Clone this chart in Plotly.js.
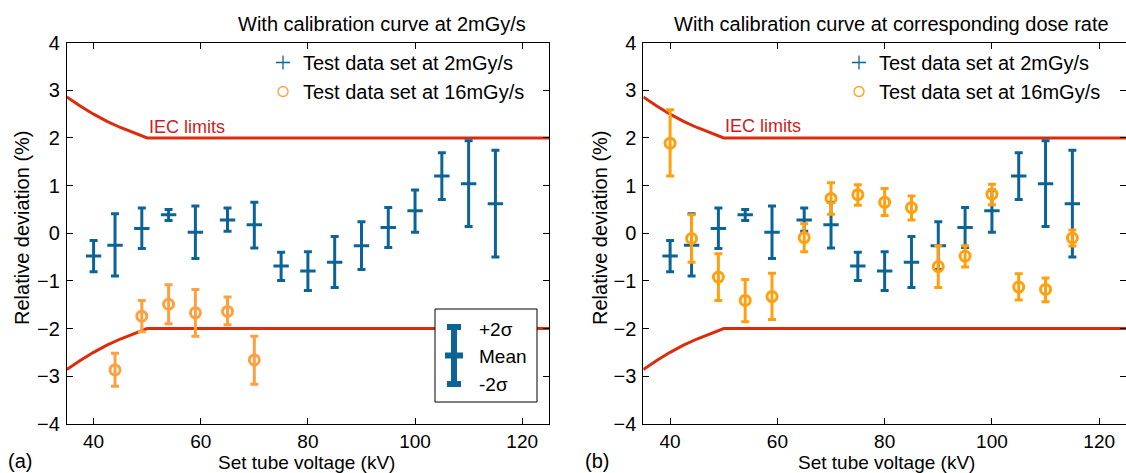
<!DOCTYPE html>
<html>
<head>
<meta charset="utf-8">
<script src="https://cdn.plot.ly/plotly-3.0.1.min.js"></script>
<style>html,body{margin:0;padding:0;background:#fff;}#chart{width:1126px;height:473px;}</style>
</head>
<body>
<div id="chart"></div>
<script>
// ---------- data ----------
const kV = [40, 44, 49, 54, 59, 65, 70, 75, 80, 85, 90, 95, 100, 105, 110, 115];

// Test data set at 2 mGy/s (same in both panels)
const blueMean  = [-0.48, -0.25, 0.10, 0.39, 0.02, 0.28, 0.18, -0.69, -0.79, -0.61, -0.26, 0.12, 0.47, 1.20, 1.04, 0.62];
const blueUpper = [-0.15, 0.41, 0.53, 0.50, 0.57, 0.53, 0.65, -0.40, -0.39, -0.07, 0.24, 0.54, 0.91, 1.69, 1.94, 1.74];
const blueLower = [-0.81, -0.90, -0.32, 0.27, -0.53, 0.04, -0.31, -0.99, -1.20, -1.14, -0.76, -0.30, 0.02, 0.71, 0.14, -0.50];

// (a) Test data set at 16 mGy/s with calibration curve at 2 mGy/s
const kVA = [44, 49, 54, 59, 65, 70];
const orangeAMean  = [-2.87, -1.74, -1.49, -1.67, -1.64, -2.66];
const orangeAUpper = [-2.52, -1.41, -1.08, -1.18, -1.34, -2.16];
const orangeALower = [-3.21, -2.07, -1.90, -2.16, -1.92, -3.17];

// (b) Test data set at 16 mGy/s with calibration curve at corresponding dose rate
const orangeBMean  = [1.89, -0.11, -0.92, -1.41, -1.33, -0.09, 0.73, 0.81, 0.65, 0.54, -0.70, -0.48, 0.82, -1.13, -1.18, -0.10];
const orangeBUpper = [2.59, 0.39, -0.43, -0.97, -0.84, 0.20, 1.06, 1.02, 0.94, 0.78, -0.26, -0.26, 1.03, -0.85, -0.94, 0.07];
const orangeBLower = [1.20, -0.61, -1.41, -1.86, -1.81, -0.39, 0.40, 0.59, 0.37, 0.28, -1.14, -0.71, 0.60, -1.40, -1.44, -0.27];

// IEC limits
const iecKV    = [35, 37.5, 40, 42.5, 45, 47.5, 50, 125];
const iecUpper = [2.86, 2.67, 2.50, 2.35, 2.22, 2.11, 2.00, 2.00];
const iecLower = [-2.86, -2.67, -2.50, -2.35, -2.22, -2.11, -2.00, -2.00];

const legendNames = ['Test data set at 2mGy/s', 'Test data set at 16mGy/s'];
const xTicks = [40, 60, 80, 100, 120];
const titles = ['With calibration curve at 2mGy/s', 'With calibration curve at corresponding dose rate'];

// ---------- styling ----------
const W = 1126, H = 473;
const BLUE = '#0b6396';
const ORANGE_A = '#ffa040';
const ORANGE_B = '#ffa00f';
const RED = '#dc2c0c';
const FONT = 'Liberation Sans, Arial, Helvetica, sans-serif';
const px = v => v / W;
const py = v => 1 - v / H;

const diff = (a, b) => a.map((v, i) => v - b[i]);

function errTrace(x, mean, up, lo, color, symbol, xa, ya) {
  const isCircle = symbol === 'circle-open';
  return {
    type: 'scatter', mode: 'markers', x: x, y: mean, xaxis: xa, yaxis: ya,
    showlegend: false, hoverinfo: 'skip',
    marker: isCircle
      ? {symbol: 'circle-open', size: 10, color: color, line: {color: color, width: 3}}
      : {symbol: 'line-ew', size: 11, color: color, line: {color: color, width: 3}},
    error_y: {type: 'data', symmetric: false, array: diff(up, mean), arrayminus: diff(mean, lo),
              color: color, thickness: 3, width: 4}
  };
}
function iecTrace(y, xa, ya) {
  return {type: 'scatter', mode: 'lines', x: iecKV, y: y, xaxis: xa, yaxis: ya,
          showlegend: false, hoverinfo: 'skip', line: {color: RED, width: 3}};
}
function legendTrace(name, symbol, color, leg) {
  return {type: 'scatter', mode: 'markers', x: [null], y: [null], name: name, legend: leg,
          showlegend: true, hoverinfo: 'skip',
          marker: {symbol: symbol, size: 10, color: color, line: {color: color, width: 1.3}}};
}

const data = [
  iecTrace(iecUpper, 'x', 'y'), iecTrace(iecLower, 'x', 'y'),
  iecTrace(iecUpper, 'x2', 'y2'), iecTrace(iecLower, 'x2', 'y2'),
  errTrace(kV, blueMean, blueUpper, blueLower, BLUE, 'line-ew', 'x', 'y'),
  errTrace(kVA, orangeAMean, orangeAUpper, orangeALower, ORANGE_A, 'circle-open', 'x', 'y'),
  errTrace(kV, blueMean, blueUpper, blueLower, BLUE, 'line-ew', 'x2', 'y2'),
  errTrace(kV, orangeBMean, orangeBUpper, orangeBLower, ORANGE_B, 'circle-open', 'x2', 'y2'),
  legendTrace(legendNames[0], 'cross-thin', BLUE, 'legend'),
  legendTrace(legendNames[1], 'circle-open', ORANGE_A, 'legend'),
  legendTrace(legendNames[0], 'cross-thin', BLUE, 'legend2'),
  legendTrace(legendNames[1], 'circle-open', ORANGE_B, 'legend2')
];

const yDom = [(H - 423.8) / H, (H - 42.7) / H];
function xAx(dom, anchor) {
  return {domain: dom, anchor: anchor, range: [35, 125], tickvals: xTicks,
          ticks: 'inside', ticklen: 6, tickwidth: 1, tickcolor: '#000',
          showline: true, mirror: 'ticks', linecolor: '#000', linewidth: 1,
          showgrid: false, zeroline: false, ticklabelstandoff: 0,
          tickfont: {family: FONT, size: 19, color: '#000'}};
}
function yAx(anchor) {
  return {domain: yDom, anchor: anchor, range: [-4, 4], dtick: 1, tick0: 0,
          ticks: 'inside', ticklen: 6, tickwidth: 1, tickcolor: '#000',
          showline: true, mirror: 'ticks', linecolor: '#000', linewidth: 1,
          showgrid: false, zeroline: false, ticklabelstandoff: 2,
          tickfont: {family: FONT, size: 20, color: '#000'}};
}

const txt = (text, x, y, opts) => Object.assign({
  text: text, x: px(x), y: py(y), xref: 'paper', yref: 'paper', showarrow: false,
  font: {family: FONT, size: 20, color: '#000'}, xanchor: 'center', yanchor: 'middle'
}, opts || {});

const annotations = [
  txt(titles[0], 382, 24),
  txt(titles[1], 891, 24),
  txt('(a)', 20, 461),
  txt('(b)', 597, 461),
  txt('Set tube voltage (kV)', 306, 462.5, {font: {family: FONT, size: 19, color: '#000'}}),
  txt('Set tube voltage (kV)', 886, 462.5, {font: {family: FONT, size: 19, color: '#000'}}),
  txt('Relative deviation (%)', 22, 228, {textangle: -90}),
  txt('Relative deviation (%)', 600, 228, {textangle: -90}),
  {text: 'IEC limits', x: 50.0, y: 2.24, xref: 'x', yref: 'y', showarrow: false, xanchor: 'left', yanchor: 'middle',
   font: {family: FONT, size: 18, color: '#cc1c1c'}},
  {text: 'IEC limits', x: 49.9, y: 2.25, xref: 'x2', yref: 'y2', showarrow: false, xanchor: 'left', yanchor: 'middle',
   font: {family: FONT, size: 18, color: '#cc1c1c'}},
  txt('+2σ', 477, 329, {xanchor: 'left', font: {family: FONT, size: 19, color: '#000'}}),
  txt('Mean', 477, 356, {xanchor: 'left', font: {family: FONT, size: 19, color: '#000'}}),
  txt('-2σ', 477, 384, {xanchor: 'left', font: {family: FONT, size: 19, color: '#000'}})
];

const pl = (x0, y0, x1, y1, w) => ({type: 'line', xref: 'paper', yref: 'paper',
  x0: px(x0), y0: py(y0), x1: px(x1), y1: py(y1), line: {color: BLUE, width: w}});
const shapes = [
  {type: 'rect', xref: 'paper', yref: 'paper', x0: px(435), x1: px(537), y0: py(402), y1: py(309),
   line: {color: '#000', width: 1}, fillcolor: '#fff', layer: 'above'},
  pl(454, 327, 454, 384, 6),
  pl(447, 327, 461, 327, 6),
  pl(447, 384, 461, 384, 6),
  pl(445, 355.5, 463, 355.5, 6)
];

const legendBase = {bgcolor: 'rgba(0,0,0,0)', borderwidth: 0, xanchor: 'left', yanchor: 'top',
  font: {family: FONT, size: 20, color: '#000'}, tracegroupgap: 0, itemsizing: 'trace'};

const layout = {
  width: W, height: H, margin: {l: 0, r: 0, t: 0, b: 0},
  paper_bgcolor: '#fff', plot_bgcolor: '#fff',
  font: {family: FONT, size: 20, color: '#000'},
  xaxis: xAx([px(66.8), px(549)], 'y'),
  yaxis: yAx('x'),
  xaxis2: xAx([px(643.3), 1], 'y2'),
  yaxis2: yAx('x2'),
  legend: Object.assign({x: px(263), y: py(43)}, legendBase),
  legend2: Object.assign({x: px(839), y: py(43)}, legendBase),
  annotations: annotations,
  shapes: shapes
};

Plotly.newPlot('chart', data, layout, {staticPlot: true, displayModeBar: false});
</script>
</body>
</html>
